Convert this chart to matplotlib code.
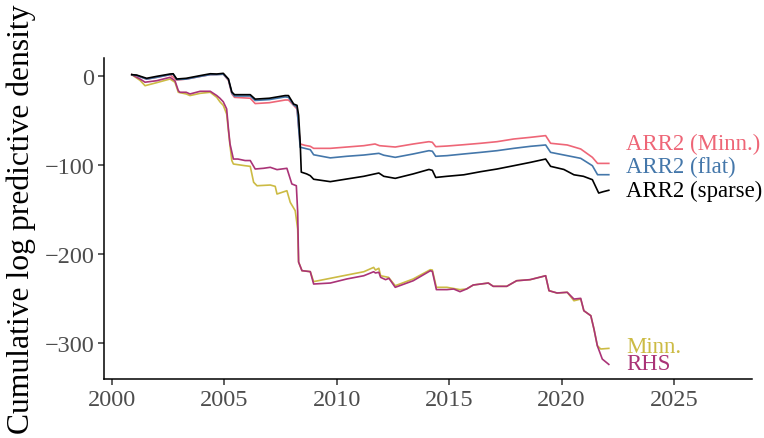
import matplotlib
matplotlib.use("Agg")
import matplotlib.pyplot as plt

plt.rcParams['font.family'] = ['Liberation Serif', 'DejaVu Serif']

# ---- data ----
t_sparse = [2000.88, 2001.1, 2001.54, 2001.99, 2002.58, 2002.72, 2002.88, 2003.3, 2003.92, 2004.37,
            2004.66, 2004.95, 2005.18, 2005.33, 2005.45, 2006.15, 2006.37, 2007.0, 2007.7, 2007.85,
            2008.08, 2008.23, 2008.3, 2008.37, 2008.42, 2008.66, 2008.82, 2008.97, 2009.71, 2010.45,
            2011.2, 2011.87, 2012.09, 2012.6, 2013.4, 2014.1, 2014.25, 2014.4, 2014.9, 2015.65,
            2016.4, 2017.13, 2017.87, 2018.62, 2019.29, 2019.51, 2020.1, 2020.55, 2020.97, 2021.37,
            2021.65, 2021.85, 2022.1]
v_sparse = [1.5, 1, -2.6, -0.4, 2.2, 2.5, -3.4, -2.6, 0.4, 2.5,
            2.2, 3, -3.4, -18, -21, -21, -26, -25, -22, -22,
            -31.5, -33, -44, -74, -108, -110, -112, -116, -118.7, -115.7,
            -112.7, -109, -112.7, -115, -110, -105, -106, -114, -112.7, -111,
            -107.5, -104.5, -100.8, -97, -93.3, -101.5, -105, -111, -112.7, -116.5,
            -131.5, -130, -128.4]

t_flat = [2000.88, 2001.1, 2001.54, 2001.99, 2002.58, 2002.72, 2002.88, 2003.3, 2003.92, 2004.37,
          2004.66, 2004.95, 2005.18, 2005.33, 2005.45, 2006.15, 2006.37, 2007.0, 2007.7, 2007.85,
          2008.08, 2008.23, 2008.37, 2008.82, 2008.97, 2009.71, 2010.45, 2011.2, 2011.87, 2012.09,
          2012.6, 2013.4, 2014.1, 2014.25, 2014.4, 2014.9, 2015.65, 2016.4, 2017.13, 2017.87,
          2018.62, 2019.29, 2019.51, 2020.25, 2020.85, 2021.37, 2021.6, 2022.1]
v_flat = [1.5, 0.5, -3.5, -1.5, 1.5, 2, -4, -3.5, -0.5, 1.5,
          1.5, 2, -4, -19, -22.5, -22.5, -27.5, -26.5, -23.5, -24,
          -32.5, -35, -80, -82.8, -88.5, -92, -90.2, -88.8, -86.9, -89,
          -91.4, -87.6, -83.9, -84.5, -90.2, -89.5, -87.6, -85.8, -83.9, -81.3,
          -79, -77.5, -85.8, -89.5, -92.5, -100.8, -110.9, -110.9]

t_minn_arr = [2000.88, 2001.1, 2001.54, 2001.99, 2002.58, 2002.88, 2003.3, 2003.92, 2004.37, 2004.95,
              2005.18, 2005.33, 2005.45, 2006.15, 2006.37, 2007.0, 2007.7, 2007.85, 2008.08, 2008.23,
              2008.37, 2008.6, 2008.82, 2008.97, 2009.71, 2010.45, 2011.2, 2011.7, 2011.9, 2012.6,
              2013.4, 2014.1, 2014.25, 2014.4, 2014.9, 2015.65, 2016.4, 2017.13, 2017.87, 2018.62,
              2019.29, 2019.51, 2020.25, 2020.85, 2021.37, 2021.6, 2022.1]
v_minn_arr = [1.5, 0.5, -3.5, -1.5, 1.5, -4.5, -3.5, -0.5, 1.5, 2,
              -5, -20, -24, -25, -31, -30, -27, -27, -33, -37,
              -76.4, -78, -79, -81.3, -81.3, -79.8, -78.3, -76.4, -78.3, -79.8,
              -76.4, -73.8, -74.5, -79.4, -78.7, -77.2, -75.6, -73.8, -70.8, -68.9,
              -67, -75.6, -77.5, -82, -91.4, -98.2, -98.2]

t_rhs = [2000.88, 2001.25, 2001.47, 2001.99, 2002.58, 2002.8, 2002.95, 2003.02, 2003.3, 2003.47,
         2003.92, 2004.37, 2004.66, 2004.8, 2004.95, 2005.1, 2005.18, 2005.25, 2005.4, 2005.6,
         2005.92, 2006.15, 2006.37, 2006.74, 2007.04, 2007.34, 2007.78, 2008.0, 2008.2, 2008.26,
         2008.3, 2008.45, 2008.82, 2008.97, 2009.71, 2010.45, 2011.2, 2011.64, 2011.72, 2011.87,
         2011.95, 2012.17, 2012.32, 2012.6, 2013.4, 2014.16, 2014.25, 2014.43, 2014.9, 2015.2,
         2015.48, 2015.77, 2016.07, 2016.74, 2016.96, 2017.56, 2018.0, 2018.6, 2019.29, 2019.44,
         2019.8, 2020.25, 2020.55, 2020.85, 2020.99, 2021.3, 2021.44, 2021.59, 2021.81, 2022.1]
v_rhs = [1.5, -3.4, -7, -5.3, -1.5, -5.3, -16.5, -18.3, -18.3, -20.2,
         -17.2, -17.2, -22, -25, -29, -37, -59.6, -76.4, -93.3, -93.3,
         -95, -95, -104.5, -103.7, -102.6, -105.2, -103.7, -121.3, -123.3, -153,
         -209, -218.7, -219.8, -233.7, -232.6, -228, -224.4, -219.9, -221.3, -220.5,
         -226.2, -228.8, -227.3, -237.4, -230, -218.8, -219.5, -240, -240, -239.3,
         -242.3, -239.3, -234.8, -232.6, -236.3, -236.3, -230, -228.8, -224.4, -241.2,
         -243.8, -243, -250.6, -249.8, -263.7, -269.3, -284.3, -303, -318, -324]

t_minn = [2000.88, 2001.25, 2001.47, 2001.99, 2002.58, 2002.8, 2002.95, 2003.3, 2003.47, 2003.92,
          2004.37, 2004.66, 2004.8, 2004.95, 2005.1, 2005.25, 2005.33, 2005.4, 2005.92, 2006.15,
          2006.3, 2006.45, 2007.04, 2007.26, 2007.34, 2007.78, 2007.93, 2008.15, 2008.26, 2008.3,
          2008.45, 2008.82, 2008.97, 2009.71, 2010.45, 2011.2, 2011.64, 2011.72, 2011.87, 2011.95,
          2012.3, 2012.6, 2013.4, 2014.16, 2014.25, 2014.43, 2014.9, 2015.48, 2015.77, 2016.07,
          2016.74, 2016.96, 2017.56, 2018.0, 2018.6, 2019.29, 2019.44, 2019.8, 2020.25, 2020.55,
          2020.85, 2020.99, 2021.3, 2021.44, 2021.59, 2021.74, 2022.1]
v_minn = [1.5, -5, -10.9, -7.5, -3.4, -7, -18.3, -20.2, -22, -19.5,
          -18.3, -24, -29, -33, -42.7, -78.3, -95, -98.9, -100.8, -101.5,
          -119.4, -123.3, -122.5, -124, -132.6, -128.9, -142, -151.3, -172, -209,
          -218.7, -219.8, -231, -227.3, -223.6, -219.9, -215, -218, -216, -224.4,
          -226.2, -235.6, -228, -217.6, -218, -237.4, -237.4, -240, -239.3, -234.8,
          -232.6, -236.3, -236.3, -230, -228.8, -224.4, -241.2, -243.8, -243, -252.5,
          -250.6, -263.7, -269.3, -284.3, -303, -306.7, -306]

series_names = ['Minn.', 'RHS', 'ARR2 (Minn.)', 'ARR2 (flat)', 'ARR2 (sparse)']
series_colors = ['#CCBB44', '#AA3377', '#EE6677', '#4477AA', '#000000']
label_y = [-303.4, -322.5, -75.3, -101.1, -128.1]
label_x = 2022.86

x_ticks = [2000, 2005, 2010, 2015, 2020, 2025]
y_ticks = [0, -100, -200, -300]
y_tick_labels = ['0', '\u2212100', '\u2212200', '\u2212300']

# ---- figure ----
W, H = 764, 439
fig = plt.figure(figsize=(W / 100, H / 100), dpi=100)
ax = fig.add_axes([104 / W, (H - 380) / H, (752 - 104) / W, (380 - 59) / H])

data = [(t_minn, v_minn), (t_rhs, v_rhs), (t_minn_arr, v_minn_arr),
        (t_flat, v_flat), (t_sparse, v_sparse)]
for (t, v), c in zip(data, series_colors):
    ax.plot(t, v, color=c, lw=1.2, solid_joinstyle='round')

for name, c, ly in zip(series_names, series_colors, label_y):
    ax.text(label_x, ly, name, color=c, fontsize=16.4, ha='left', va='center')

ax.set_xlim(1999.644, 2028.47)
ax.set_ylim(-340.4, 20.2)
ax.set_xticks(x_ticks)
ax.set_yticks(y_ticks)
ax.set_yticklabels(y_tick_labels)
for s in ['top', 'right']:
    ax.spines[s].set_visible(False)
for s in ['left', 'bottom']:
    ax.spines[s].set_linewidth(1.1)
ax.tick_params(axis='both', length=4, width=1.1, color='#333333',
               labelsize=17.5, labelcolor='#4D4D4D', pad=3)
ax.set_ylabel('Cumulative log predictive density', fontsize=22.8, color='black',
              va='center')
ax.yaxis.set_label_coords(-83 / (752 - 104), 0.5)

fig.savefig('out.png', dpi=100)
